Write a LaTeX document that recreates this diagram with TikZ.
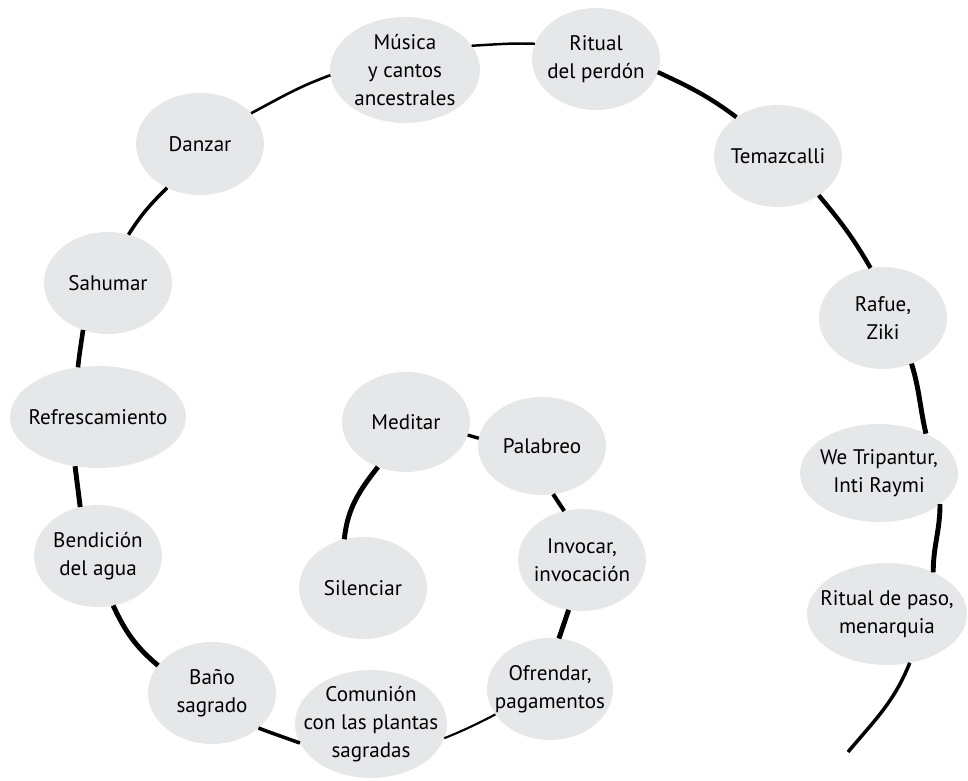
\documentclass[tikz,border=0pt]{standalone}
\usepackage{fontspec}
\setmainfont{PT Sans}
\usetikzlibrary{shapes.geometric}
\definecolor{blobgray}{RGB}{230,231,232}
\begin{document}
\begin{tikzpicture}[x=0.02cm,y=0.02cm,
  blob/.style n args={2}{ellipse, fill=blobgray, inner sep=0pt, outer sep=0pt,
    minimum width=#1*0.04cm, minimum height=#2*0.04cm},
  txt/.style={align=center, font=\fontsize{12}{16}\selectfont, text=black, inner sep=0pt},
  seg/.style={line width=#1, draw=black},
]
\useasboundingbox (0,0) rectangle (968,781);

% outer part of the spiral
\node[blob={75}{53}, label={[txt]center:{Música\\y cantos\\ancestrales}}] (musica) at (405,711) {};
\node[blob={64}{51}, label={[txt]center:{Ritual\\del perdón}}] (ritual) at (596,722) {};
\node[blob={64}{51}, label={[txt]center:{Temazcalli}}] (temaz) at (778,625) {};
\node[blob={64}{51}, label={[txt]center:{Rafue,\\Ziki}}] (rafue) at (883,463) {};
\node[blob={79}{49}, label={[txt]center:{We Tripantur,\\Inti Raymi}}] (tripantur) at (879,308) {};
\node[blob={80}{51}, label={[txt]center:{Ritual de paso,\\menarquia}}] (ritualpaso) at (887,167) {};
\node[blob={64}{51}, label={[txt]center:{Danzar}}] (danzar) at (200,637) {};
\node[blob={64}{51}, label={[txt]center:{Sahumar}}] (sahumar) at (108,498) {};
\node[blob={88}{51}, label={[txt]center:{Refrescamiento}}] (refresc) at (98,364) {};
\node[blob={64}{51}, label={[txt]center:{Bendición\\del agua}}] (bendicion) at (98,225) {};
\node[blob={64}{51}, label={[txt]center:{Baño\\sagrado}}] (bano) at (212,88) {};
\node[blob={76}{54}, label={[txt]center:{Comunión\\con las plantas\\sagradas}}] (comunion) at (371,57) {};
% inner part of the spiral
\node[blob={63}{51}, label={[txt]center:{Ofrendar,\\pagamentos}}] (ofrendar) at (550,92) {};
\node[blob={64}{51}, label={[txt]center:{Invocar,\\invocación}}] (invocar) at (582,221) {};
\node[blob={64}{49}, label={[txt]center:{Palabreo}}] (palabreo) at (542,335) {};
\node[blob={64}{50}, label={[txt]center:{Meditar}}] (meditar) at (406,359) {};
\node[blob={64}{51}, label={[txt]center:{Silenciar}}] (silenciar) at (363,193) {};
\coordinate (endpt) at (848,29);

% spiral connectors
\draw[seg=2.8pt] (silenciar.111) to[out=84,in=232] (meditar.238);
\draw[seg=1.9pt] (meditar.-12) to[out=-14,in=166] (palabreo.173);
\draw[seg=2.3pt] (palabreo.-77) -- (invocar.110);
\draw[seg=2.8pt] (invocar.-105) -- (ofrendar.80);
\draw[seg=1.2pt] (ofrendar.205) to[out=207,in=22] (comunion.-11);
\draw[seg=2pt] (comunion.195) to[out=160,in=-21] (bano.-37);
\draw[seg=2.8pt] (bano.153) to[out=140,in=-65] (bendicion.-73);
\draw[seg=2.8pt] (bendicion.110) to[out=97,in=-83] (refresc.245);
\draw[seg=2.6pt] (refresc.112) to[out=84,in=-98] (sahumar.242);
\draw[seg=2pt] (sahumar.67) to[out=58,in=-135] (danzar.233);
\draw[seg=1.5pt] (danzar.31) to[out=28,in=200] (musica.184);
\draw[seg=1.4pt] (musica.20) to[out=3,in=178] (ritual.166);
\draw[seg=2.5pt] (ritual.-12) to[out=-25,in=143] (temaz.137);
\draw[seg=2.5pt] (temaz.-44) to[out=-50,in=120] (rafue.104);
\draw[seg=2.8pt] (rafue.-58) to[out=-73,in=103] (tripantur.40);
\draw[seg=2.8pt] (tripantur.-27) to[out=-90,in=90] (ritualpaso.42);
\draw[seg=2pt] (ritualpaso.-65) to[out=-112,in=50] (endpt);
\end{tikzpicture}
\end{document}
